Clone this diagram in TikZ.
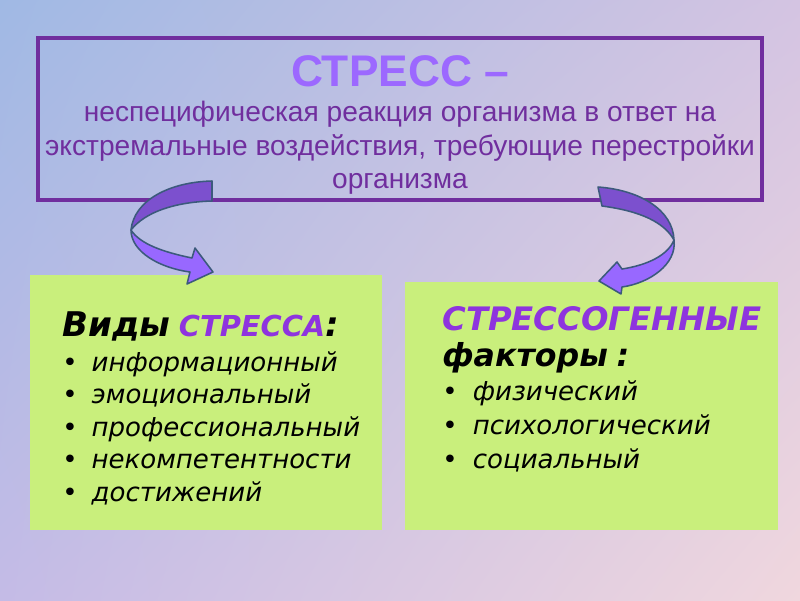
\documentclass[tikz,border=0pt]{standalone}
\usepackage{fontspec}
\setmainfont{Liberation Sans}
\newfontfamily\panelfont{DejaVu Sans}
\usetikzlibrary{positioning, shadings}
\lefthyphenmin=64

\definecolor{frameviolet}{RGB}{112,46,158}
\definecolor{titleviolet}{RGB}{156,104,255}
\definecolor{wordviolet}{RGB}{142,52,222}
\definecolor{panelgreen}{RGB}{201,239,124}
\definecolor{ribbondark}{RGB}{124,80,206}
\definecolor{ribbonlight}{RGB}{152,104,255}
\definecolor{ribbonedge}{RGB}{60,90,124}
\definecolor{bgtl}{RGB}{160,185,228}
\definecolor{bgtr}{RGB}{212,196,226}
\definecolor{bgbl}{RGB}{196,187,230}
\definecolor{bgbr}{RGB}{240,215,222}

\begin{document}
\begin{tikzpicture}[
  x=0.025cm, y=-0.025cm,
  defbox/.style={draw=frameviolet, line width=2.8pt, align=center, text=frameviolet, minimum width=18.11cm, minimum height=4.05cm, inner sep=0pt, font=\fontsize{20}{23.5}\selectfont},
  panel/.style={fill=panelgreen, align=left, inner ysep=0pt, anchor=north west, font=\panelfont\fontsize{18.5}{23.1}\selectfont},
  ribbon/.style={draw=ribbonedge, line width=1.1pt, line join=round}
]
\useasboundingbox (0,0) rectangle (800,600);
\shade[upper left=bgtl, upper right=bgtr, lower left=bgbl, lower right=bgbr] (0,0) rectangle (800,600);

% definition box
\node[defbox] (stress) at (400,119) {%
  {\fontsize{31.5}{31}\selectfont\bfseries\color{titleviolet}\rule{0pt}{1.05cm}СТРЕСС –}\\[2pt]
  неспецифическая реакция организма в ответ на\\
  экстремальные воздействия, требующие перестройки\\
  организма};

% two panels
\node[panel, inner xsep=0.8cm, minimum width=8.8cm, minimum height=6.375cm, text width=7.2cm] (kinds) at (30,275) {%
  \rule{0pt}{0.89cm}{\fontsize{24.2}{24}\selectfont\bfseries\itshape Виды {\color{wordviolet}\fontsize{20.5}{24}\selectfont СТРЕССА}:}\\[1.8pt]
  \mbox{\textbullet\hspace{0.35cm}\textit{информационный}}\\
  \mbox{\textbullet\hspace{0.35cm}\textit{эмоциональный}}\\
  \mbox{\textbullet\hspace{0.35cm}\textit{профессиональный}}\\
  \mbox{\textbullet\hspace{0.35cm}\textit{некомпетентности}}\\
  \mbox{\textbullet\hspace{0.35cm}\textit{достижений}}};
\node[panel, inner xsep=0.925cm, minimum width=9.325cm, minimum height=6.2cm, text width=7.475cm] (factors) at (405,282) {%
  {\fontsize{23}{24}\selectfont\bfseries\itshape\color{wordviolet}СТРЕССОГЕННЫЕ}\\[2pt]
  {\fontsize{22.5}{24}\selectfont\bfseries\itshape факторы :}\\[1.5pt]
  \mbox{\textbullet\hspace{0.38cm}\textit{физический}}\\[1pt]
  \mbox{\textbullet\hspace{0.38cm}\textit{психологический}}\\[1pt]
  \mbox{\textbullet\hspace{0.38cm}\textit{социальный}}\rule[-0.925cm]{0pt}{0.925cm}};

% curved arrows
\filldraw[ribbon, fill=ribbondark] (212,181) .. controls (170,182) and (134,200) .. (131,230)
  .. controls (145,212) and (175,202) .. (212,201) -- cycle;
\filldraw[ribbon, fill=ribbonlight] (131,230) .. controls (131,252) and (160,268) .. (190,272)
  -- (187,284) -- (213,272) -- (195,248) -- (192,258)
  .. controls (163,252) and (140,244) .. (131,230) -- cycle;
\filldraw[ribbon, fill=ribbondark] (598,187) .. controls (640,190) and (673,210) .. (674,240)
  .. controls (664,222) and (640,211) .. (602,206) -- cycle;
\filldraw[ribbon, fill=ribbonlight] (674,240) .. controls (677,264) and (650,283) .. (622,287)
  -- (621,294) -- (599,281) -- (617,262) -- (622,269)
  .. controls (648,265) and (668,255) .. (674,240) -- cycle;
\end{tikzpicture}
\end{document}
